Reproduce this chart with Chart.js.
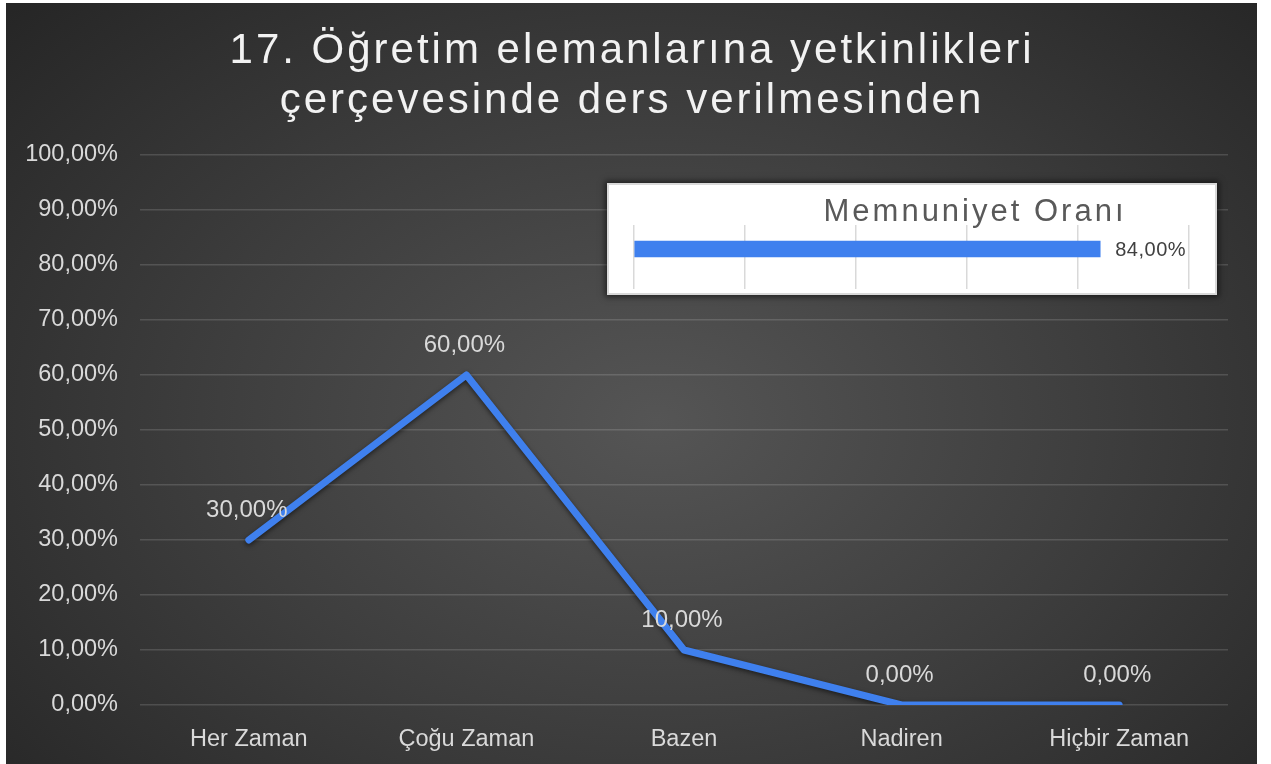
<!DOCTYPE html>
<html><head><meta charset="utf-8">
<script src="https://cdn.jsdelivr.net/npm/chart.js@4/dist/chart.umd.min.js"></script>
<style>
html,body{margin:0;padding:0;background:#fff;width:1271px;height:764px;overflow:hidden;}
#main{position:absolute;left:6px;top:3px;width:1251px;height:761px;
  background:radial-gradient(ellipse 70% 80% at 52% 55%, #555555 0%, #3e3e3e 50%, #262626 100%);}
#inset{position:absolute;left:607px;top:183px;width:610px;height:112px;box-sizing:border-box;
  border:2px solid #d9d9d9;background:#fff;box-shadow:0 0 6px 2px rgba(0,0,0,0.55);}
canvas{display:block}
</style></head><body>
<div id="main"><canvas id="c1" width="1251" height="761"></canvas></div>
<div id="inset"><canvas id="c2" width="606" height="108"></canvas></div>
<script>
// ---- data ----
const titleLines = ['17. Öğretim elemanlarına yetkinlikleri', 'çerçevesinde ders verilmesinden'];
const categories = ['Her Zaman', 'Çoğu Zaman', 'Bazen', 'Nadiren', 'Hiçbir Zaman'];
const values = [0.30, 0.60, 0.10, 0.00, 0.00];
const yTicks = [0, 0.1, 0.2, 0.3, 0.4, 0.5, 0.6, 0.7, 0.8, 0.9, 1.0];
const insetTitle = 'Memnuniyet Oranı';
const insetCategories = ['Memnuniyet Oranı'];
const insetValues = [0.84];
const insetTicks = [0, 0.2, 0.4, 0.6, 0.8, 1.0];

const fmt = v => (v * 100).toFixed(2).replace('.', ',') + '%';
const FONT = '"Liberation Sans", Arial, sans-serif';
const BLUE = '#3f80ee';

Chart.defaults.font.family = FONT;

const spacedTitle = {
  id: 'spacedTitle',
  afterDraw(chart, args, o) {
    const ctx = chart.ctx;
    ctx.save();
    ctx.font = o.size + 'px ' + FONT;
    ctx.fillStyle = o.color;
    ctx.textAlign = 'center';
    ctx.textBaseline = 'alphabetic';
    try { ctx.letterSpacing = o.spacing + 'px'; } catch (e) {}
    o.lines.forEach((t, i) => ctx.fillText(t, o.x, o.y + i * o.lineGap));
    ctx.restore();
  }
};

const valueLabels = {
  id: 'valueLabels',
  beforeDatasetsDraw(chart, args, o) {
    const ctx = chart.ctx;
    ctx.save();
    if (o.shadow) {
      ctx.shadowColor = 'rgba(0,0,0,0.55)';
      ctx.shadowBlur = 5;
      ctx.shadowOffsetY = 2;
    }
  },
  afterDatasetsDraw(chart, args, o) {
    const ctx = chart.ctx;
    ctx.restore();
    const meta = chart.getDatasetMeta(0);
    const data = chart.data.datasets[0].data;
    ctx.save();
    ctx.font = o.size + 'px ' + FONT;
    ctx.fillStyle = o.color;
    ctx.textAlign = o.align;
    ctx.textBaseline = 'middle';
    try { ctx.letterSpacing = (o.spacing || 0) + 'px'; } catch (e) {}
    meta.data.forEach((el, i) => {
      ctx.fillText(fmt(data[i]), el.x + o.dx, el.y + o.dy);
    });
    ctx.restore();
  }
};

new Chart(document.getElementById('c1'), {
  type: 'line',
  data: {
    labels: categories,
    datasets: [{
      data: values,
      borderColor: BLUE,
      borderWidth: 7,
      pointRadius: 0,
      borderCapStyle: 'round',
      borderJoinStyle: 'round',
      tension: 0,
      fill: false
    }]
  },
  options: {
    responsive: false,
    devicePixelRatio: 1,
    animation: false,
    layout: { padding: { left: 0, right: 29, top: 152, bottom: 0 } },
    plugins: {
      legend: { display: false },
      tooltip: { enabled: false },
      title: { display: false },
      spacedTitle: { lines: titleLines, size: 42, color: '#f2f2f2', spacing: 3, x: 626, y: 60, lineGap: 50 },
      valueLabels: { size: 24, color: '#d9d9d9', align: 'center', dx: -2, dy: -30, shadow: true }
    },
    scales: {
      x: {
        offset: true,
        grid: { display: false },
        border: { display: false },
        ticks: { color: '#d9d9d9', font: { size: 23.5 }, padding: 12, maxRotation: 0 },
        afterFit(s) { s.height = 59; }
      },
      y: {
        min: 0, max: 1,
        afterBuildTicks(s) { s.ticks = yTicks.map(v => ({ value: v })); },
        grid: { color: 'rgba(255,255,255,0.14)', lineWidth: 1.5, drawTicks: false },
        border: { display: false },
        ticks: { color: '#d9d9d9', font: { size: 23.5 }, padding: 22, callback: v => fmt(v) },
        afterFit(s) { s.width = 134; }
      }
    }
  },
  plugins: [spacedTitle, valueLabels]
});

new Chart(document.getElementById('c2'), {
  type: 'bar',
  data: {
    labels: insetCategories,
    datasets: [{
      data: insetValues,
      backgroundColor: BLUE,
      barThickness: 16
    }]
  },
  options: {
    indexAxis: 'y',
    responsive: false,
    devicePixelRatio: 1,
    animation: false,
    layout: { padding: { left: 25, right: 26, top: 40, bottom: 4 } },
    plugins: {
      legend: { display: false },
      tooltip: { enabled: false },
      title: { display: false },
      spacedTitle: { lines: [insetTitle], size: 31, color: '#595959', spacing: 3, x: 366, y: 36, lineGap: 0 },
      valueLabels: { size: 20, color: '#404040', align: 'left', dx: 15, dy: 1, spacing: 0.5, shadow: false }
    },
    scales: {
      x: {
        min: 0, max: 1,
        afterBuildTicks(s) { s.ticks = insetTicks.map(v => ({ value: v })); },
        grid: { color: '#d9d9d9', lineWidth: 1.5, drawTicks: true, tickLength: 16 },
        border: { display: false },
        ticks: { display: false }
      },
      y: { display: false }
    }
  },
  plugins: [spacedTitle, valueLabels]
});
</script>
</body></html>
